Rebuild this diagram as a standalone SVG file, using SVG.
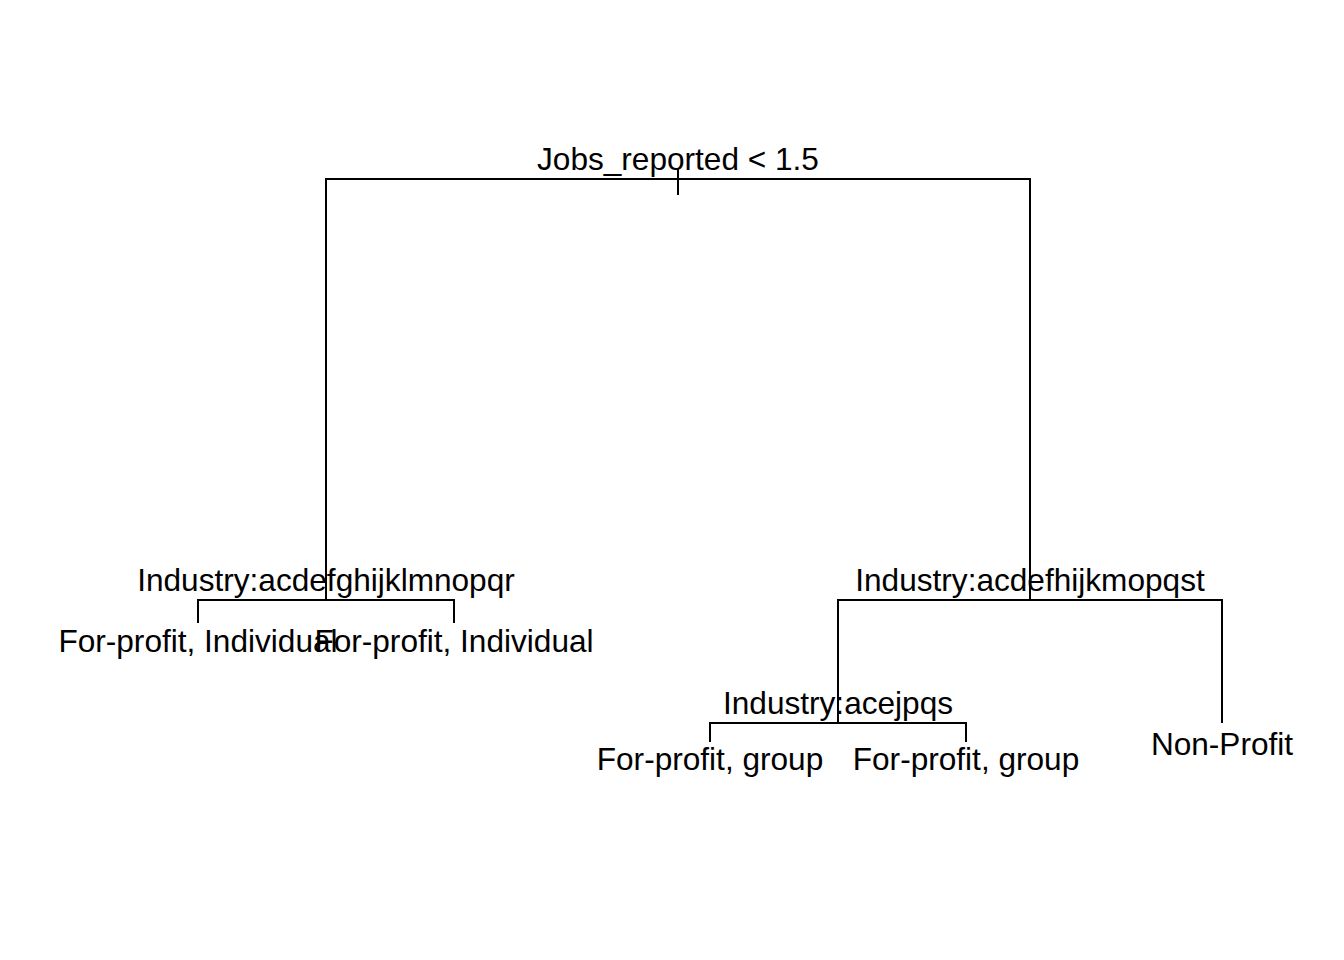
<svg xmlns="http://www.w3.org/2000/svg" width="1344" height="960" viewBox="0 0 1344 960">
<style>
.e{fill:none;stroke:#000;stroke-width:2;stroke-linecap:butt}
.t{font-family:"Liberation Sans",Arial,sans-serif;font-size:31.6px;fill:#000;text-anchor:middle}
</style>
<rect width="1344" height="960" fill="#fff"/>
<g id="connectors">
<path class="e" d="M678,168V195"/>
<path class="e" d="M326,600V179H1030V600"/>
<path class="e" d="M198,623V600H454V623"/>
<path class="e" d="M838,723V600H1222V723"/>
<path class="e" d="M710,742V723H966V742"/>
</g>
<g id="root"><text class="t" x="678" y="169.5">Jobs_reported &lt; 1.5</text></g>
<g id="left"><text class="t" x="326" y="591">Industry:acdefghijklmnopqr</text></g>
<g id="right"><text class="t" x="1030" y="591">Industry:acdefhijkmopqst</text></g>
<g id="rightleft"><text class="t" x="838" y="713.5">Industry:acejpqs</text></g>
<g id="leaf1"><text class="t" x="198" y="652">For-profit, Individual</text></g>
<g id="leaf2"><text class="t" x="454" y="652">For-profit, Individual</text></g>
<g id="leaf3"><text class="t" x="710" y="770">For-profit, group</text></g>
<g id="leaf4"><text class="t" x="966" y="770">For-profit, group</text></g>
<g id="leaf5"><text class="t" x="1222" y="755">Non-Profit</text></g>
</svg>
